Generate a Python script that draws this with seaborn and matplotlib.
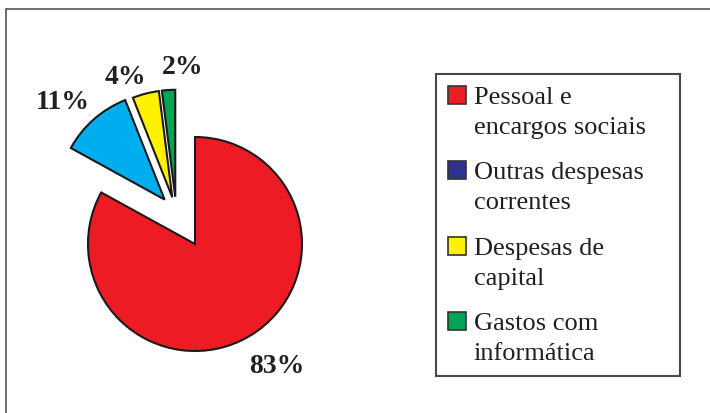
import numpy as np
import matplotlib
matplotlib.use("Agg")
import matplotlib.pyplot as plt
import seaborn as sns
from matplotlib.patches import Rectangle
from matplotlib.legend_handler import HandlerPatch
from matplotlib.transforms import Affine2D

# ---- data ----
categories = ["Pessoal e\nencargos sociais", "Outras despesas\ncorrentes",
              "Despesas de\ncapital", "Gastos com\ninformática"]
values = [83, 11, 4, 2]
pct_labels = ["83%", "11%", "4%", "2%"]
slice_colors = ["#ED1C24", "#00AEEF", "#FFF200", "#00A651"]
legend_colors = ["#ED1C24", "#2E3192", "#FFF200", "#00A651"]

# ---- style ----
sns.set_theme(style="white")
plt.rcParams["font.family"] = ["Liberation Serif", "DejaVu Serif"]

W, H = 710, 414
fig = plt.figure(figsize=(W / 100, H / 100), dpi=100)
fig.patch.set_facecolor("white")
ax = fig.add_axes([0, 0, 1, 1])

R = 107
CX, CY = 195, H - 245
explode_frac = [0, 0.165, 0.15, 0.15]
explode = [e * R for e in explode_frac]
group_shift = 0.34 * R
group_angle = np.deg2rad(121)
gdx, gdy = group_shift * np.cos(group_angle), group_shift * np.sin(group_angle)

wedges, _ = ax.pie(values, colors=slice_colors, startangle=90, counterclock=False,
                   explode=explode, radius=R, center=(CX, CY),
                   wedgeprops=dict(edgecolor="#1a1a1a", linewidth=1.5))

shift = Affine2D().translate(gdx, gdy)
label_dist = [1.37, 1.32, 1.21, 1.22]
label_rot = [3.5, 4.6, 6.8, -6.8]
for i, w in enumerate(wedges):
    mid = np.deg2rad((w.theta1 + w.theta2) / 2)
    ex = explode[i]
    a = mid + np.deg2rad(label_rot[i])
    x = CX + ex * np.cos(mid) + label_dist[i] * R * np.cos(a)
    y = CY + ex * np.sin(mid) + label_dist[i] * R * np.sin(a)
    if i > 0:
        w.set_transform(shift + ax.transData)
        x += gdx
        y += gdy
    ax.text(x, y, pct_labels[i], ha="center", va="center", fontsize=20,
            fontweight="bold", color="#231f20")

ax.set_xlim(0, W)
ax.set_ylim(0, H)
ax.set_aspect("equal")
ax.axis("off")

# ---- frame lines ----
fig.add_artist(plt.Line2D([6 / W, 1], [1 - 10 / H, 1 - 10 / H], color="#555555", lw=1.2))
fig.add_artist(plt.Line2D([6 / W, 6 / W], [0, 1 - 10 / H], color="#555555", lw=1.2))

# ---- legend ----
fs = 19


def make_patch(legend, orig_handle, xdescent, ydescent, width, height, fontsize):
    return Rectangle((-xdescent, -ydescent + 0.62 * fontsize), width, height)


handles = [Rectangle((0, 0), 1, 1, facecolor=c, edgecolor="#333333", linewidth=1.2)
           for c in legend_colors]
leg = fig.legend(handles, categories, loc="upper left",
                 bbox_to_anchor=(436 / W, 1 - 373 / H, (680 - 436) / W, (373 - 75) / H),
                 mode="expand", fontsize=fs, frameon=True, fancybox=False,
                 handlelength=0.68, handleheight=0.68, handletextpad=0.3,
                 labelspacing=0.89, borderpad=0.45, borderaxespad=0,
                 handler_map={Rectangle: HandlerPatch(patch_func=make_patch)})
leg.get_frame().set_edgecolor("#1a1a1a")
leg.get_frame().set_linewidth(1.5)
for t in leg.get_texts():
    t.set_color("#231f20")
    t.set_linespacing(1.47)

fig.savefig("out.png", dpi=100, facecolor="white")
